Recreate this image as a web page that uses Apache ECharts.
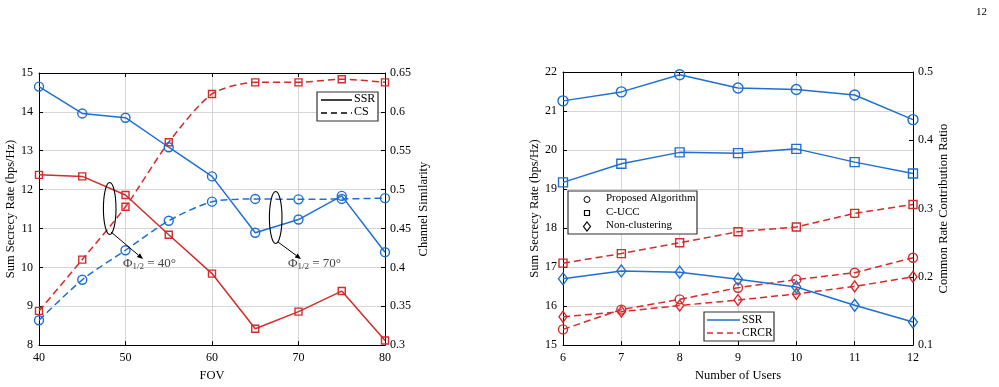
<!DOCTYPE html>
<html>
<head>
<meta charset="utf-8">
<script src="https://cdn.jsdelivr.net/npm/echarts@6/dist/echarts.min.js"></script>
<style>
  html, body { margin: 0; padding: 0; background: #fff; }
  #chart { width: 999px; height: 387px; }
</style>
</head>
<body>
<div id="chart"></div>
<script>
// ---- left plot: SSR / CS vs FOV ----
const fov = [40, 45, 50, 55, 60, 65, 70, 75, 80];
const ssr40 = [12.38, 12.34, 11.86, 10.84, 9.84, 8.42, 8.86, 9.39, 8.12];
const ssr70 = [14.65, 13.96, 13.85, 13.09, 12.34, 10.89, 11.23, 11.84, 10.39];
const cs40 = [0.344, 0.410, 0.478, 0.561, 0.623, 0.638, 0.638, 0.642, 0.638];
const cs70 = [0.332, 0.384, 0.422, 0.460, 0.4845, 0.488, 0.4875, 0.488, 0.489];

// ---- right plot: SSR / CRCR vs number of users ----
const users = [6, 7, 8, 9, 10, 11, 12];
const ssrProposed = [21.26, 21.49, 21.93, 21.59, 21.55, 21.41, 20.78];
const ssrCucc = [19.17, 19.65, 19.94, 19.92, 20.03, 19.69, 19.40];
const ssrNonClu = [16.70, 16.90, 16.87, 16.69, 16.49, 16.02, 15.59];
const crcrProposed = [0.123, 0.152, 0.167, 0.184, 0.196, 0.206, 0.228];
const crcrCucc = [0.220, 0.234, 0.250, 0.266, 0.273, 0.293, 0.306];
const crcrNonClu = [0.1415, 0.149, 0.158, 0.166, 0.175, 0.186, 0.200];

const BLUE = '#1f6fd2';
const RED = '#d42b2b';
const FONT = '"Liberation Serif", "Times New Roman", serif';

function pairs(xs, ys) {
  return xs.map((x, i) => [x, ys[i]]);
}

function mkLine(name, xi, yi, xs, ys, color, symbol, size, dashed, smooth) {
  return {
    name: name,
    type: 'line',
    xAxisIndex: xi,
    yAxisIndex: yi,
    data: pairs(xs, ys),
    symbol: symbol,
    symbolSize: size,
    showSymbol: true,
    smooth: smooth || false,
    lineStyle: { color: color, width: 1.5, type: dashed ? [7, 4] : 'solid' },
    itemStyle: { color: 'rgba(255,255,255,0)', borderColor: color, borderWidth: 1.4 },
    emphasis: { disabled: true },
    z: 3
  };
}

const axisLine = { show: true, onZero: false, lineStyle: { color: '#000', width: 1 } };
const tick = { show: true, inside: true, length: 4, lineStyle: { color: '#000' } };
const grey = { show: true, lineStyle: { color: '#d6d6d6', width: 1 } };
const lbl = { color: '#000', fontFamily: FONT, fontSize: 12 };
const nameStyle = { color: '#000', fontFamily: FONT, fontSize: 12.5 };

const myChart = echarts.init(document.getElementById('chart'));

const option = {
  animation: false,
  backgroundColor: '#fff',
  grid: [
    { left: 39, top: 73, width: 346, height: 275 },
    { left: 563, top: 72, width: 350, height: 277 }
  ],
  xAxis: [
    {
      gridIndex: 0, type: 'value', min: 40, max: 80, interval: 10,
      name: 'FOV', nameLocation: 'middle', nameGap: 20, nameTextStyle: nameStyle,
      axisLine: axisLine, axisTick: tick, splitLine: grey,
      axisLabel: Object.assign({ margin: 7 }, lbl)
    },
    {
      gridIndex: 0, type: 'value', min: 40, max: 80, interval: 10, position: 'top',
      axisLine: axisLine, axisTick: tick, splitLine: { show: false }, axisLabel: { show: false }
    },
    {
      gridIndex: 1, type: 'value', min: 6, max: 12, interval: 1,
      name: 'Number of Users', nameLocation: 'middle', nameGap: 20, nameTextStyle: nameStyle,
      axisLine: axisLine, axisTick: tick, splitLine: grey,
      axisLabel: Object.assign({ margin: 7 }, lbl)
    },
    {
      gridIndex: 1, type: 'value', min: 6, max: 12, interval: 1, position: 'top',
      axisLine: axisLine, axisTick: tick, splitLine: { show: false }, axisLabel: { show: false }
    }
  ],
  yAxis: [
    {
      gridIndex: 0, type: 'value', min: 8, max: 15, interval: 1,
      name: 'Sum Secrecy Rate (bps/Hz)', nameLocation: 'middle', nameGap: 21, nameTextStyle: nameStyle,
      axisLine: axisLine, axisTick: tick, splitLine: grey,
      axisLabel: Object.assign({ margin: 6 }, lbl)
    },
    {
      gridIndex: 0, type: 'value', min: 0.3, max: 0.65, interval: 0.05, position: 'right',
      name: 'Channel Similarity', nameLocation: 'middle', nameGap: 32, nameRotate: 90, nameTextStyle: nameStyle,
      axisLine: axisLine, axisTick: tick, splitLine: { show: false },
      axisLabel: Object.assign({ margin: 5 }, lbl)
    },
    {
      gridIndex: 1, type: 'value', min: 15, max: 22, interval: 1,
      name: 'Sum Secrecy Rate (bps/Hz)', nameLocation: 'middle', nameGap: 21, nameTextStyle: nameStyle,
      axisLine: axisLine, axisTick: tick, splitLine: grey,
      axisLabel: Object.assign({ margin: 6 }, lbl)
    },
    {
      gridIndex: 1, type: 'value', min: 0.1, max: 0.5, interval: 0.1, position: 'right',
      name: 'Common Rate Contribution Ratio', nameLocation: 'middle', nameGap: 24, nameRotate: 90, nameTextStyle: nameStyle,
      axisLine: axisLine, axisTick: tick, splitLine: { show: false },
      axisLabel: Object.assign({ margin: 5 }, lbl)
    }
  ],
  series: [
    mkLine('CS 40', 0, 1, fov, cs40, RED, 'rect', 7, true, 0.25),
    mkLine('CS 70', 0, 1, fov, cs70, BLUE, 'circle', 9, true, 0.25),
    mkLine('SSR 40', 0, 0, fov, ssr40, RED, 'rect', 7, false),
    mkLine('SSR 70', 0, 0, fov, ssr70, BLUE, 'circle', 9, false),

    mkLine('CRCR Proposed', 2, 3, users, crcrProposed, RED, 'circle', 9, true),
    mkLine('CRCR C-UCC', 2, 3, users, crcrCucc, RED, 'rect', 8, true),
    mkLine('CRCR Non-clustering', 2, 3, users, crcrNonClu, RED, 'diamond', [8, 11], true),
    mkLine('SSR Proposed', 2, 2, users, ssrProposed, BLUE, 'circle', 10, false),
    mkLine('SSR C-UCC', 2, 2, users, ssrCucc, BLUE, 'rect', 9, false),
    mkLine('SSR Non-clustering', 2, 2, users, ssrNonClu, BLUE, 'diamond', [9, 12], false)
  ]
};

// 图例和标注 (legend boxes, ellipses, arrows, page number)
function phiText(x, y, deg) {
  return {
    type: 'text', left: x, top: y, z: 10,
    style: {
      text: '{a|\u03A6}{s|1/2}{a| = ' + deg + '\u00B0}',
      rich: {
        a: { fontFamily: FONT, fontSize: 13, fill: '#444' },
        s: { fontFamily: FONT, fontSize: 9, fill: '#444', padding: [6, 0, 0, 0] }
      }
    }
  };
}
function arrow(x1, y1, x2, y2) {
  const ang = Math.atan2(y2 - y1, x2 - x1);
  const L = 6, W = 2.5;
  const bx = x2 - L * Math.cos(ang), by = y2 - L * Math.sin(ang);
  return [
    { type: 'line', z: 10, shape: { x1: x1, y1: y1, x2: bx, y2: by }, style: { stroke: '#000', lineWidth: 1 } },
    {
      type: 'polygon', z: 10,
      shape: { points: [[x2, y2], [bx + W * Math.sin(ang), by - W * Math.cos(ang)], [bx - W * Math.sin(ang), by + W * Math.cos(ang)]] },
      style: { fill: '#000' }
    }
  ];
}
function ellipse(cx, cy) {
  return { type: 'ellipse', z: 10, shape: { cx: cx, cy: cy, rx: 6.3, ry: 26 }, style: { fill: 'none', stroke: '#000', lineWidth: 1.1 } };
}
function txt(x, y, s, size) {
  return { type: 'text', z: 12, left: x, top: y, style: { text: s, fontFamily: FONT, fontSize: size || 12.5, fill: '#000' } };
}
function box(x, y, w, h) {
  return { type: 'rect', z: 11, shape: { x: x, y: y, width: w, height: h }, style: { fill: '#fff', stroke: '#333', lineWidth: 1.2 } };
}
function seg(x1, y1, x2, y2, color, dashed) {
  return { type: 'line', z: 12, shape: { x1: x1, y1: y1, x2: x2, y2: y2 }, style: { stroke: color, lineWidth: 1.5, lineDash: dashed ? [6, 4] : null } };
}

option.graphic = [].concat(
  [ellipse(109.7, 208.5), ellipse(275.7, 217.5)],
  arrow(111, 232, 143, 259),
  arrow(278, 242, 301, 259),
  [phiText(123, 257, 40), phiText(288, 257, 70)],
  // left legend
  [box(317, 92, 61, 29), seg(321, 100, 352, 100, '#000', false), seg(321, 113, 352, 113, '#000', true),
   txt(354, 93, 'SSR', 12), txt(354, 106, 'CS', 12)],
  // right legend: markers
  [box(568, 191, 129, 43),
   { type: 'circle', z: 12, shape: { cx: 587, cy: 199.5, r: 3 }, style: { fill: '#fff', stroke: '#000', lineWidth: 1 } },
   { type: 'rect', z: 12, shape: { x: 584.5, y: 210.5, width: 5, height: 5 }, style: { fill: '#fff', stroke: '#000', lineWidth: 1.2 } },
   { type: 'polygon', z: 12, shape: { points: [[587, 222], [590.5, 226.5], [587, 231], [583.5, 226.5]] }, style: { fill: '#fff', stroke: '#000', lineWidth: 1.2 } },
   txt(606, 193, 'Proposed Algorithm', 11), txt(606, 206.5, 'C-UCC', 11), txt(606, 220, 'Non-clustering', 11)],
  // right legend: line styles
  [box(704, 312, 70, 29), seg(707, 320, 740, 320, BLUE, false), seg(707, 333, 740, 333, RED, true),
   txt(742, 313.5, 'SSR', 11.5), txt(742, 326.5, 'CRCR', 11.5)],
  [{ type: 'text', left: 976, top: 7, style: { text: '12', fontFamily: FONT, fontSize: 11, fill: '#000' } }]
);

myChart.setOption(option);
</script>
</body>
</html>
